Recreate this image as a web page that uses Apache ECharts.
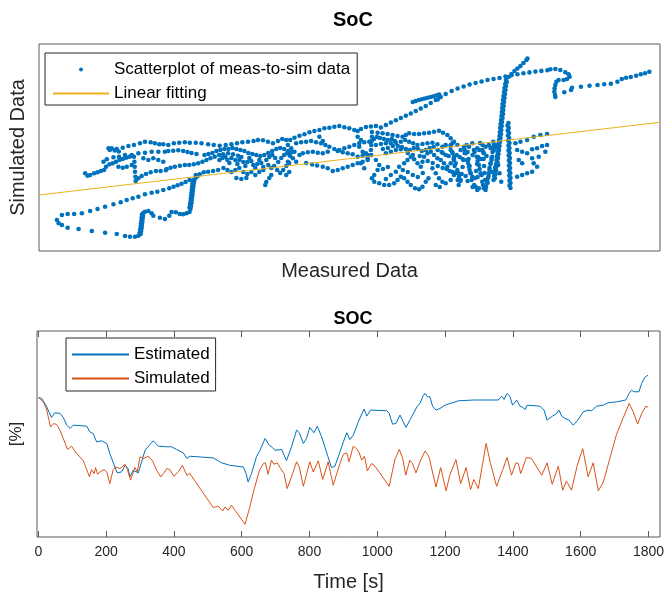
<!DOCTYPE html>
<html><head><meta charset="utf-8">
<script src="https://cdn.jsdelivr.net/npm/echarts@6/dist/echarts.min.js"></script>
<style>html,body{margin:0;padding:0;background:#fff}#c{width:670px;height:601px}</style>
</head><body><div id="c"></div><script>
// Top plot: measured (x) vs simulated (y), arbitrary SOC-like units
const scatterPoints = [
[21.8,43.1],[22.3,43.6],[22.87,43.7],[23.53,43.7],[24.3,43.77],[25.13,44],[25.87,44.2],[26.63,44.43],[27.47,44.67],[28.2,44.87],[28.8,45.1],[29.4,45.27],[29.97,45.43],[30.63,45.67],[31.3,45.83],[31.87,45.93],[32.47,46.1],[33.07,46.27],[33.5,46.43],[33.9,46.57],[34.3,46.73],[34.7,46.9],[35.1,47.1],[35.73,47.6],[36.13,47.67],[36.53,47.87],[36.97,47.93],[37.47,48],[37.97,48.1],
[21.97,42.77],[22.3,42.6],[22.87,42.33],[23.97,42.2],[25.3,42],[26.63,41.83],[27.8,41.7],[28.63,41.5],[29.13,41.43],[29.63,41.43],[29.97,41.53],[30.2,41.7],[30.25,42],[30.3,42.3],[30.33,42.6],[30.37,42.9],[30.4,43.2],[30.43,43.5],[30.47,43.8],[30.63,43.93],[30.97,44],[31.3,43.77],[31.47,43.53],[32.13,43.33],[32.63,43.2],[33.07,43.53],[33.3,43.9],[33.73,43.87],[34.13,43.7],[34.47,43.67],[34.8,43.77],[35.1,43.9],[35.2,44.2],[35.25,44.5],[35.3,44.8],[35.33,45.1],[35.37,45.4],[35.4,45.7],[35.43,46],[35.47,46.3],[35.5,46.6],[35.55,46.9],[35.6,47.15],[35.73,47.35],[35.9,47.5],
[30.1,41.85],[30.15,42.15],[30.2,42.45],[30.23,42.75],[30.27,43.05],[30.3,43.35],[30.33,43.65],
[35.1,44.35],[35.15,44.65],[35.2,44.95],[35.23,45.25],[35.27,45.55],[35.3,45.85],[35.33,46.15],[35.37,46.45],[35.4,46.75],[35.45,47.05],
[26.97,50.27],[27.3,50.27],[27.8,50.2],[28.4,50.33],[28.97,50.5],[29.53,50.6],[30.13,50.77],[30.63,50.93],[31.2,50.87],[31.63,50.77],[32.07,50.67],[32.47,50.67],[32.97,50.6],[33.53,50.77],[34.07,50.83],[34.63,50.87],[35.13,50.83],[35.73,50.83],[36.3,50.77],[36.97,50.67],[37.53,50.6],[38.13,50.53],[38.73,50.6],[39.3,50.67],[39.87,50.77],[40.4,50.87],[40.97,50.93],[41.53,51],[41.97,51.1],[42.47,51.07],[42.97,50.93],[43.47,50.77],[43.97,51],[44.4,51.2],[44.8,51.1],[45.2,51.1],[45.63,51.33],[46.13,51.53],[46.63,51.67],[47.13,51.87],[47.63,52],[48.13,52.1],[48.63,52.27],[49.13,52.33],[49.63,52.43],[50.13,52.5],[50.63,52.37],[51.13,52.27],[51.63,52.1],[51.97,52],[52.3,52.2],[52.8,52.4],[53.3,52.45],[53.8,52.5],
[53.4,51.9],[53.4,51.43],[53.37,51],[53.33,50.6],[53.3,50.1],[53.33,49.6],
[54.3,52.35],[54.8,52.6],[55.3,52.85],[55.8,53.07],[56.3,53.3],[56.8,53.52],[57.3,53.75],[57.8,54],[58.3,54.25],[58.8,54.5],[59.3,54.8],[59.8,55.1],[60.3,55.4],[60.8,55.7],[61.4,56],[62,56.25],[62.6,56.45],[63.2,56.65],[63.8,56.8],[64.4,56.95],[65,57.1],[65.6,57.2],[66.2,57.3],[66.8,57.45],[67.4,57.57],[68,57.68],[68.6,57.78],[69.2,57.86],[69.8,57.94],[70.4,58.01],[71,58.07],
[71.3,58.17],[71.8,58.2],[72.3,58.1],[72.8,57.87],[73.13,57.67],[73.23,57.43],[72.97,57.2],[72.63,57.1],[72.13,57.1],[71.9,56.93],[71.8,56.6],[71.73,56.27],[71.7,55.93],[71.77,55.6],[71.8,55.4],
[72.7,55.87],[73.37,56.1],[73.47,56.33],[74.37,56.43],[75.23,56.53],[76.03,56.6],[76.7,56.67],[77.37,56.73],[78.03,56.93],[78.47,57.2],[78.9,57.33],[79.37,57.4],[79.9,57.53],[80.37,57.67],[80.8,57.77],[81.23,57.93],
[57.5,54.9],[57.8,55],[58.1,55.1],[58.4,55.18],[58.7,55.25],[59,55.32],[59.3,55.4],[59.6,55.48],[59.9,55.57],[60.15,55.65],[60.2,55.4],[60,55.15],
[65.6,47.1],[65.65,47.5],[65.7,47.9],[65.75,48.3],[65.85,48.7],[65.9,49.1],[65.95,49.5],[66,49.9],[66.05,50.3],[66.1,50.7],[66.15,51.1],[66.2,51.5],[66.23,51.9],[66.27,52.3],[66.3,52.7],[66.35,53.1],[66.4,53.5],[66.43,53.9],[66.47,54.3],[66.5,54.7],[66.55,55.1],[66.6,55.5],[66.65,55.9],[66.7,56.3],[66.77,56.7],[66.85,57.1],
[65.75,47.3],[65.8,47.7],[65.85,48.1],[65.9,48.5],[66,48.9],[66.05,49.3],[66.1,49.7],[66.15,50.1],[66.2,50.5],[66.25,50.9],[66.3,51.3],[66.35,51.7],[66.38,52.1],[66.42,52.5],[66.45,52.9],[66.5,53.3],[66.55,53.7],[66.58,54.1],[66.62,54.5],[66.65,54.9],[66.7,55.3],[66.75,55.7],[66.8,56.1],[66.85,56.5],[66.92,56.9],
[67.1,57.4],[67.4,57.7],[67.7,58],[68,58.25],[68.3,58.5],[68.6,58.8],[68.9,59.1],[69,59.25],
[67.1,52.8],[67.13,52.3],[67.15,51.8],[67.17,51.3],[67.2,50.8],[67.2,50.3],[67.22,49.8],[67.24,49.3],[67.25,48.8],[67.26,48.3],[67.28,47.8],[67.3,47.3],[67.3,46.8],[67.3,46.3],
[67,52.55],[67.02,52.05],[67.05,51.55],[67.07,51.05],[67.1,50.55],[67.1,50.05],[67.12,49.55],[67.14,49.05],[67.15,48.55],[67.16,48.05],[67.18,47.55],[67.2,47.05],[67.2,46.55],
[68.3,50.93],[68.97,51.1],[69.63,51.43],[70.3,51.6],[70.97,51.7],
[67.97,50.1],[68.47,49.93],[68.97,49.77],[69.47,50.17],[69.97,50.27],[70.47,50.5],[70.97,50.6],
[68.13,49.1],[68.47,48.77],[69.47,49.27],[70.13,49.43],[70.8,49.93],
[67.97,47.43],[68.47,47.6],[68.97,47.77],[69.47,47.93],[69.97,48.43],[69.63,48.77],[67.8,50.77],
[61.3,50.1],[61.63,49.43],[61.8,48.77],[61.97,48.1],[62.13,47.43],[62.3,47.1],
[62.63,50.43],[62.8,49.77],[62.97,49.1],[63.13,48.43],[63.3,47.77],[63.47,47.43],
[63.63,50.1],[63.9,49.43],[64.13,48.6],[64.3,47.77],[64.47,46.93],[64.63,46.27],[64.8,46.1],
[64.97,46.77],[65.13,47.77],[65.3,48.77],[65.47,49.43],[65.63,50.1],[65.8,50.6],
[63.8,46.43],[63.97,46.1],[64.13,46.27],
[64.63,49.77],[64.8,50.43],[65.13,50.6],[65.57,50.93],[65.97,50.43],
[62.3,50.1],[61.97,50.6],[61.47,50.77],
[63.13,50.43],[63.47,50.77],[63.97,50.27],[64.47,50.1],
[65.97,49.43],[66.07,48.6],[66.2,47.77],[66.37,46.93],
[61.5,49.8],[62.05,47.8],[62.7,50.1],[63.05,48.8],[63.2,48.1],[64,49],[64.2,48.2],[64.55,46.6],[65.05,47.3],[65.2,48.3],[65.4,49.1],[65.7,50.4],
[61.3,50.6],[61.45,49.9],[61.6,49.2],[61.7,48.5],[61.85,47.8],[62,47.1],[62.1,46.6],[62.25,47],[62.4,47.7],[62.5,48.4],[62.6,49.1],[62.7,49.8],
[62.9,50.6],[63,49.9],[63.1,49.2],[63.2,48.5],[63.3,47.8],[63.4,47.1],[63.5,46.4],[63.65,46.6],[63.75,47.3],[63.85,48],[63.95,48.7],[64.05,49.4],[64.15,50.1],[64.25,50.8],
[64.5,50.6],[64.55,49.9],[64.6,49.2],[64.65,48.5],[64.7,47.8],[64.75,47.1],[64.85,46.4],[65,46.9],[65.1,47.5],[65.2,48.1],[65.3,48.7],[65.4,49.3],[65.5,49.9],[65.6,50.5],
[60.5,49.8],[60.8,49.6],[61.1,49.5],[61.9,49.6],[62.2,49.4],[62.5,49.2],[63.5,49.6],[63.7,49.9],[64.3,49.2],[64.9,49.5],[65.3,50.3],[60.9,48.2],[61.2,48],[61.5,47.9],[62.8,47.5],[63,47],[64,47.4],[64.4,47.6],[65.5,47.9],[65.8,48.4],
[53.97,51.83],[54.47,51.77],[54.97,51.7],[55.47,51.6],[55.97,51.5],[56.47,51.43],[56.8,51.6],[57.13,51.77],[57.63,51.7],[58.13,51.7],[58.63,51.77],[59.13,51.83],[59.63,51.93],[60.13,52.03],[60.53,51.83],[60.97,51.6],[61.3,51.27],[61.63,50.93],
[53.8,50.6],[54.3,50.7],[54.8,50.77],[55.3,50.77],[55.8,50.83],[56.3,50.93],[56.73,51.1],[57.13,50.93],[57.53,50.77],[57.97,50.6],[58.47,50.7],[58.97,50.77],[59.47,50.83],[59.97,50.67],[60.47,50.43],[60.8,50.6],[61.3,50.5],
[51.97,51.43],[52.3,51.1],[52.13,50.43],[52.47,49.93],[51.97,49.43],[52.3,48.77],[52.63,48.27],[52.97,49.1],[52.8,49.77],
[53.8,49.1],[54.13,48.6],[53.97,48.1],[53.63,47.6],[53.4,47.27],[53.63,46.93],[54.13,46.77],[54.63,46.6],[55.13,46.6],[55.63,46.77],[55.97,47.1],[56.3,47.43],[56.63,47.27],[56.97,46.93],[57.3,46.6],[57.73,46.27],[58.13,46.17],[58.47,46.43],[58.8,46.93],[59.07,47.27],
[55.8,47.93],[56.13,48.43],[56.63,48.77],[56.97,49.1],[57.3,49.43],[57.63,49.17],[57.97,48.77],[58.3,48.43],[58.47,48.93],[58.63,49.43],[58.97,49.77],[59.3,49.93],[59.63,49.6],[59.97,49.27],[60.3,49.1],[60.63,48.77],[60.97,48.43],[61.3,48.77],[61.63,49.1],
[59.47,48.27],[59.8,47.77],[60.13,47.27],[60.47,46.93],[60.8,46.77],[61.3,47.1],[61.63,47.6],
[54.8,49.77],[55.3,49.93],[55.8,50.1],[56.3,50.17],
[53.6,51.2],[53.9,51.4],[54.2,51.3],[54.6,51.2],[55,51.1],[55.4,51.2],[55.7,51],[56,50.5],[56.4,50.4],[56.8,50.2],[57.2,50.1],[57.6,50.3],[58,50.2],[58.4,50],[58.8,50.1],[59.2,50.3],[59.6,50.4],[60,50.1],[60.4,49.9],[54.5,50.2],[55,50.3],[55.5,50.5],[57,49.8],[57.5,49.6],[58.2,49.5],[59,49],[59.5,48.8],[60,48.5],[60.5,48.3],[56.5,48.1],[57,47.9],[57.5,47.6],[58,47.4],[58.5,47.8],[54.5,48.2],[55,48.4],[55.3,47.6],[54.8,47.2],[59.8,46.6],[60.2,46.4],
[45.8,50.77],[46.3,50.87],[46.8,50.93],[47.3,51],[47.8,50.87],[48.3,50.77],[48.73,50.6],[49.13,50.43],[49.63,50.2],[50.13,50.1],[50.63,50.27],[51.13,50.43],[51.63,50.6],[52.13,50.77],[52.63,50.87],[53.13,50.93],
[46.47,49.77],[46.97,49.87],[47.47,49.93],[47.97,49.83],[48.47,49.77],[48.97,49.93],[49.97,50],[50.47,49.87],[50.97,49.77],[51.47,49.67],[52.47,49.53],[52.97,49.6],
[48.47,48.43],[48.97,48.27],[49.47,48],[49.97,48.1],[50.47,48.27],[50.97,48.43],[51.47,48.6],[51.97,48.77],[52.47,48.93],[52.97,49.27],
[44.97,50.6],[45.3,50.27],[45.13,49.6],[45.47,49.27],[45.8,48.93],[44.97,48.93],[46.13,49.6],[45.63,49.93],
[48.13,51.43],[48.47,51],[46.8,48.8],[47.4,48.65],[47.9,48.55],
[26.47,48.93],[26.8,49.17],[27.47,49.37],[28.03,49.43],[28.63,49.6],[29.3,49.6],[29.97,49.77],[30.63,49.83],[31.3,49.93],[31.97,49.93],[32.63,49.93],[32.97,50],[33.47,50.03],[33.97,50.07],[34.47,50],[34.9,49.9],[35.3,49.8],[35.8,49.7],
[32.8,48.2],[33.2,48.33],[33.63,48.43],[34.13,48.53],[34.63,48.6],[35.07,48.6],[35.53,48.67],[35.97,48.77],[36.4,48.93],[36.8,49.1],[37.2,49.27],[37.63,49.43],[38.07,49.6],[38.47,49.67],[38.97,49.77],[39.47,49.67],[39.97,49.53],
[36.6,49.6],[37,49.7],[37.4,49.8],[37.8,50],[38.2,50.1],[38.6,50.2],[39,50.2],[39.4,50.3],[39.8,50.2],[40.2,50.1],[40.6,50],[41,49.8],[41.4,49.7],[41.8,49.6],[42.2,49.5],[42.6,49.6],[43,49.8],[43.4,50],[43.8,50.2],[44.2,50.3],[44.6,50.2],[45,50],[45.4,49.9],
[38.1,49.1],[38.4,49.3],[38.7,49.4],[38.9,49.1],[39.1,48.8],[39.3,49.3],[39.7,49.1],[39.9,48.7],[40.1,49.1],[40.3,49.4],[40.5,48.9],[40.7,48.5],[40.9,48.9],[41.1,49.3],[41.3,49],[41.5,48.6],[41.7,48.3],[41.9,48.7],[42.1,49.1],[42.3,48.8],[42.5,48.4],
[38.5,48.3],[38.9,48.1],[39.3,47.9],[39.7,48.1],[40.1,48.3],[40.5,47.9],[40.9,47.7],[41.3,47.9],[41.7,47.6],[42.1,47.9],[42.5,48.1],
[39.8,47.3],[40.3,47.2],[40.8,47.3],
[42.8,49.1],[43.1,49.4],[43.4,49.6],[43.7,49.3],[44,48.9],[44.3,49.3],[44.6,49.6],[44.9,49.8],[45.2,49.5],[43,48.6],[43.3,48.3],[43.6,48.5],[43.9,48.1],[44.2,47.8],[44.5,48.1],[44.8,48.5],[45.1,48.8],[43.3,47.6],[42.8,46.9],[43.1,47.3],[44.8,47.6],[45.1,47.9],[42.7,46.6],
[24.63,47.77],[24.87,47.53],[25.13,47.6],[25.53,47.77],[25.87,47.87],[26.2,48],[26.53,48.1],[26.73,48.43],[27.07,48.67],[27.4,48.77],[27.73,48.93],[28.07,49.1],[28.4,49.2],[28.73,49.33],[29.07,49.43],[29.3,49.53],
[27.97,48.43],[28.4,48.33],[28.8,48.43],[29.3,48.6],
[29.53,49.43],[29.57,48.93],[29.6,48.43],[29.63,47.93],[29.67,47.43],[29.7,47],
[29.97,47.27],[30.3,47.5],[30.73,47.7],[31.2,47.87],[31.73,48],[32.2,48],[32.73,48.07],
[30.47,49.27],[30.97,49.1],[31.47,49.27],[31.97,49.1],[32.47,48.93],
[27.1,50.1],[27.6,50.05],[28,49.95]
];
const fitMeasured = [20, 82.3];
const fitSimulated = [45.6, 52.87];

// Bottom plot: [time s, SOC %]
const estimated = [[0,67.7],[10,67.3],[25,63.2],[39,58],[49,60.3],[64,60],[74,58],[84,54.3],[94,52.7],[103,54.3],[143,53.8],[152,51],[162,50.2],[172,46.2],[187,46.7],[202,45.4],[211,40.5],[226,34],[233,31.1],[246,31.6],[256,34.8],[265,33.2],[270,29.2],[280,32.4],[295,31.1],[315,42.1],[339,46.7],[354,44.1],[379,43.8],[393,43.8],[408,42.5],[428,40.8],[438,38.1],[447,39.2],[516,38.4],[541,36],[565,34.8],[605,34],[613,30.8],[619,26.7],[629,30.8],[644,39.2],[654,42.1],[669,47.8],[681,44.6],[691,43.4],[698,42.1],[718,42.5],[732,37],[747,43.8],[762,51.9],[770,50.6],[782,45.4],[791,47.8],[801,53.2],[813,50.6],[823,53.8],[836,48.6],[850,41.3],[865,33.7],[875,34.4],[890,41.3],[900,46.2],[910,50.6],[919,47.3],[929,49.4],[944,55.9],[961,62.1],[969,58.7],[980,61.6],[1028,61.3],[1035,60],[1045,54.8],[1055,55.1],[1067,59.2],[1075,56.4],[1085,53.2],[1096,56.7],[1118,63.5],[1126,64.8],[1134,68.1],[1141,69.7],[1148,68.1],[1155,68.1],[1163,63.5],[1173,61.6],[1185,62.4],[1200,64],[1239,66.1],[1283,66.5],[1357,66.5],[1367,68.4],[1374,66.8],[1383,69.7],[1391,68.4],[1399,64],[1411,66.5],[1421,63.5],[1429,62.9],[1436,61.9],[1442,64],[1480,63.5],[1492,61.6],[1501,56.7],[1517,58.7],[1527,59.6],[1536,61.6],[1544,58.7],[1554,57.5],[1566,56.7],[1578,54.3],[1590,56.4],[1608,60.8],[1622,61.6],[1632,61.3],[1647,63.5],[1667,64],[1681,65.2],[1706,65.6],[1733,66.5],[1743,69.7],[1750,71.3],[1757,70.5],[1772,70.5],[1780,74.6],[1789,77.5],[1799,78.6]];
const simulated = [[0,67.7],[15,65.6],[25,61.6],[36,53.5],[46,55.1],[54,54.6],[64,51.9],[74,47.8],[86,42.5],[98,44.1],[113,40.5],[133,37],[151,29.2],[157,32.7],[165,30.8],[169,33.7],[175,30.5],[182,31.6],[194,32.7],[202,31.6],[211,25.9],[221,32.7],[229,34],[241,33.2],[256,35.3],[263,32.7],[272,27.6],[285,33.7],[292,31.6],[300,38.9],[310,38.1],[325,39.2],[337,37],[349,32.4],[361,29.2],[369,30.8],[379,33.2],[388,32.7],[400,29.5],[413,31.6],[425,34.8],[438,30],[447,30.8],[516,14.3],[531,14.9],[544,12.6],[551,14.6],[560,13],[570,15.4],[580,13],[610,6.2],[624,14.6],[636,22.7],[652,32.1],[664,35.7],[670,36],[678,30.5],[688,37.3],[695,35.3],[705,36],[715,33.2],[725,30.8],[734,23.5],[747,29.2],[762,36.5],[770,34],[782,24.6],[801,36.5],[811,31.6],[826,37],[839,27.9],[855,36.5],[870,25.1],[880,30.5],[890,35.7],[900,40.2],[910,40.8],[917,36.5],[929,44.1],[939,42.9],[947,40.8],[954,37.3],[962,39.2],[971,32.1],[983,35.7],[993,34.4],[1035,24.6],[1052,37.6],[1065,42.5],[1075,38.1],[1084,30],[1096,37.3],[1104,35.7],[1114,31.1],[1128,37.3],[1141,41.8],[1148,40.2],[1153,38.6],[1173,24.3],[1187,33.7],[1203,22.4],[1214,30],[1232,37.6],[1246,25.9],[1262,33.7],[1275,23],[1285,27.9],[1298,23.5],[1321,45.4],[1334,35.7],[1352,24.6],[1370,32.7],[1383,38.6],[1396,30],[1409,36],[1416,35.7],[1423,30.8],[1440,38.6],[1455,38.1],[1485,30],[1501,36],[1516,25.6],[1534,34.4],[1547,22.7],[1558,27.2],[1573,22.7],[1590,34.8],[1606,42.9],[1622,29.2],[1637,36],[1652,22.4],[1667,26.7],[1686,38.1],[1706,49.9],[1726,58],[1743,64.8],[1755,60.8],[1768,54.8],[1780,60],[1792,63.5],[1799,62.9]];
const timeTicks = [0,200,400,600,800,1000,1200,1400,1600,1800];

const FONT = '"Liberation Sans", Arial, Helvetica, sans-serif';
const TXT = '#262626';
const AX = '#5a5a5a';
const fitData = fitMeasured.map((m, i) => [m, fitSimulated[i]]);
const hideSym = {opacity: 0};

const chart = echarts.init(document.getElementById('c'), null, {renderer: 'canvas'});
chart.setOption({
  animation: false,
  backgroundColor: '#fff',
  textStyle: {fontFamily: FONT},
  title: [
    {text: 'SoC', left: 348, top: 5, textAlign: 'center', textStyle: {fontSize: 20, fontWeight: 'bold', color: '#000', fontFamily: FONT}},
    {text: 'SOC', left: 348, top: 305, textAlign: 'center', textStyle: {fontSize: 18, fontWeight: 'bold', color: '#000', fontFamily: FONT}}
  ],
  grid: [
    {left: 37, top: 44, width: 623, height: 207, show: true, borderColor: AX, borderWidth: 1, containLabel: false},
    {left: 37, top: 331, width: 623, height: 206, show: true, borderColor: AX, borderWidth: 1, containLabel: false}
  ],
  legend: [
    {
      orient: 'vertical', left: 45, top: 53, align: 'left',
      padding: [8, 7, 3, 7], itemGap: 7, itemWidth: 56, itemHeight: 14,
      borderColor: TXT, borderWidth: 1, backgroundColor: '#fff',
      textStyle: {fontSize: 17, color: '#000', fontFamily: FONT, lineHeight: 17},
      data: [
        {name: 'Scatterplot of meas-to-sim data', icon: 'path://M0,0L0,0M56,0L56,0M0,14L0,14M56,14L56,14M26,7A2,2,0,1,1,30,7A2,2,0,1,1,26,7Z'},
        {name: 'Linear fitting', itemStyle: hideSym}
      ]
    },
    {
      orient: 'vertical', left: 66, top: 338, align: 'left',
      padding: [8, 6, 4, 5], itemGap: 7, itemWidth: 57, itemHeight: 14,
      borderColor: TXT, borderWidth: 1, backgroundColor: '#fff',
      textStyle: {fontSize: 17, color: '#000', fontFamily: FONT, lineHeight: 17},
      data: [{name: 'Estimated', itemStyle: hideSym}, {name: 'Simulated', itemStyle: hideSym}]
    }
  ],
  xAxis: [
    {
      gridIndex: 0, type: 'value', min: 20, max: 82.3,
      axisLine: {show: false}, axisTick: {show: false}, axisLabel: {show: false}, splitLine: {show: false},
      name: 'Measured Data', nameLocation: 'middle', nameGap: 10,
      nameTextStyle: {fontSize: 20, color: TXT, fontFamily: FONT}
    },
    {
      gridIndex: 1, type: 'value', min: -3.8, max: 1834,
      axisLine: {show: false},
      axisTick: {show: true, inside: true, length: 6, customValues: timeTicks, lineStyle: {color: AX}},
      axisLabel: {show: true, customValues: timeTicks, fontSize: 14, color: TXT, margin: 8, fontFamily: FONT,
                  formatter: (v) => String(v)},
      splitLine: {show: false},
      name: 'Time [s]', nameLocation: 'middle', nameGap: 35,
      nameTextStyle: {fontSize: 20, color: TXT, fontFamily: FONT}
    },
    {
      gridIndex: 1, type: 'value', position: 'top', min: -3.8, max: 1834,
      axisLine: {show: false},
      axisTick: {show: true, inside: true, length: 6, customValues: timeTicks, lineStyle: {color: AX}},
      axisLabel: {show: false}, splitLine: {show: false}
    }
  ],
  yAxis: [
    {
      gridIndex: 0, type: 'value', min: 40, max: 60.7,
      axisLine: {show: false}, axisTick: {show: false}, axisLabel: {show: false}, splitLine: {show: false},
      name: 'Simulated Data', nameLocation: 'middle', nameGap: 11, nameRotate: 90,
      nameTextStyle: {fontSize: 20, color: TXT, fontFamily: FONT}
    },
    {
      gridIndex: 1, type: 'value', min: 0, max: 100,
      axisLine: {show: false}, axisTick: {show: false}, axisLabel: {show: false}, splitLine: {show: false},
      name: '[%]', nameLocation: 'middle', nameGap: 12, nameRotate: 90,
      nameTextStyle: {fontSize: 17, color: TXT, fontFamily: FONT}
    }
  ],
  series: [
    {
      name: 'Scatterplot of meas-to-sim data', type: 'scatter', xAxisIndex: 0, yAxisIndex: 0,
      symbol: 'circle', symbolSize: 4.6, itemStyle: {color: '#0072BD', opacity: 1}, data: scatterPoints, z: 2
    },
    {
      name: 'Linear fitting', type: 'line', xAxisIndex: 0, yAxisIndex: 0,
      symbol: 'none', color: '#EDB120', lineStyle: {color: '#EDB120', width: 1}, data: fitData, z: 3
    },
    {
      name: 'Estimated', type: 'line', xAxisIndex: 1, yAxisIndex: 1,
      symbol: 'none', color: '#0072BD', lineStyle: {color: '#0072BD', width: 1}, data: estimated
    },
    {
      name: 'Simulated', type: 'line', xAxisIndex: 1, yAxisIndex: 1,
      symbol: 'none', color: '#D95319', lineStyle: {color: '#D95319', width: 1}, data: simulated
    }
  ]
});
</script></body></html>
